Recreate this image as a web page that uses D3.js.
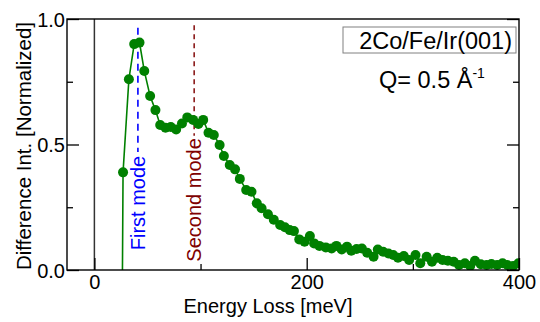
<!DOCTYPE html>
<html><head><meta charset="utf-8">
<script src="https://cdn.jsdelivr.net/npm/d3@7"></script>
<style>
html,body{margin:0;padding:0;background:#fff;}
svg{display:block;font-family:"Liberation Sans",Arial,Helvetica,sans-serif;}
</style></head>
<body>
<script>
// ---- data ----
const energy = [26, 27, 32.5, 37.5, 42.5, 47, 52.5, 57.5, 62, 67,
  72, 77, 82.5, 87.5, 93, 98, 102.5, 107.5, 112.5, 118,
  122, 127.5, 132.5, 137, 143, 148, 153, 157.5, 163.5, 169,
  175, 179.5, 184, 188, 193, 198, 203, 207, 212, 218,
  223.5, 228, 233, 238, 242, 247, 252, 257, 263, 267,
  272, 277, 281.5, 286, 291.5, 296.5, 302.5, 307, 313, 318,
  323, 328, 333, 338.5, 343.5, 349, 354, 358.5, 364, 369.5,
  374, 379.5, 384.5, 389, 394.5, 399.5];
const intensity = [-0.3, 0.389, 0.76, 0.90, 0.906, 0.793, 0.693, 0.637, 0.578, 0.567,
  0.57, 0.56, 0.584, 0.608, 0.598, 0.582, 0.598, 0.547, 0.538, 0.498,
  0.454, 0.418, 0.401, 0.363, 0.319, 0.312, 0.266, 0.246, 0.222, 0.2,
  0.179, 0.17, 0.159, 0.155, 0.122, 0.113, 0.135, 0.106, 0.096, 0.09,
  0.086, 0.096, 0.082, 0.093, 0.077, 0.084, 0.086, 0.069, 0.053, 0.082,
  0.073, 0.066, 0.06, 0.049, 0.056, 0.04, 0.06, 0.027, 0.053, 0.033,
  0.049, 0.04, 0.037, 0.033, 0.02, 0.027, 0.016, 0.037, 0.023, 0.02,
  0.024, 0.02, 0.027, 0.02, 0.016, 0.027];
const modeEnergies = [41, 94];
const modeLabels = ["First mode", "Second mode"];
const xMajorTicks = [0, 200, 400];
const xMinorTicks = [100, 300];
const yMajorTicks = [0, 0.5, 1.0];
const yMinorTicks = [0.25, 0.75];
const legendText = "2Co/Fe/Ir(001)";
const qText = "Q= 0.5 Å";
const qSup = "-1";
const xTitle = "Energy Loss [meV]";
const yTitle = "Difference Int. [Normalized]";

// ---- layout ----
const W = 540, H = 322;
const L = 67, R = 519, T = 19, B = 270;
const x = d3.scaleLinear().domain([-25.8, 400]).range([L, R]);
const y = d3.scaleLinear().domain([0, 1]).range([B, T]);

const svg = d3.select("body").append("svg").attr("width", W).attr("height", H);
svg.append("defs").append("clipPath").attr("id", "clip")
  .append("rect").attr("x", L).attr("y", T).attr("width", R - L).attr("height", B - T);

// zero line
svg.append("line").attr("x1", x(0)).attr("x2", x(0)).attr("y1", T).attr("y2", B)
  .attr("stroke", "#333").attr("stroke-width", 1.5);

// mode lines + labels
const modeColors = ["#0000ff", "#8b1a1a"];
const modeTextColors = ["#0000ff", "#800000"];
const modeTop = [0.965, 0.975];
const modeEnd = [0.47, 0.535];
const modeTextEnd = [0.455, 0.525];
const dashes = ["7,5", "5,4"];
modeEnergies.forEach((e, i) => {
  svg.append("line").attr("x1", x(e)).attr("x2", x(e))
    .attr("y1", y(modeTop[i])).attr("y2", y(modeEnd[i]))
    .attr("stroke", modeColors[i]).attr("stroke-width", 1.6)
    .attr("stroke-dasharray", dashes[i]);
  svg.append("text")
    .attr("transform", `translate(${x(e)},${y(modeTextEnd[i])}) rotate(-90)`)
    .attr("text-anchor", "end").attr("dy", "0.33em")
    .attr("font-size", 20).attr("fill", modeTextColors[i]).text(modeLabels[i]);
});

// data line + markers
const pts = energy.map((e, i) => [e, intensity[i]]);
const g = svg.append("g").attr("clip-path", "url(#clip)");
g.append("path").datum(pts)
  .attr("d", d3.line().x(d => x(d[0])).y(d => y(d[1])))
  .attr("fill", "none").attr("stroke", "#008000").attr("stroke-width", 1.6);
g.selectAll("circle").data(pts).join("circle")
  .attr("cx", d => x(d[0])).attr("cy", d => y(d[1])).attr("r", 5)
  .attr("fill", "#008000");

// axes (inward ticks)
const xb = d3.axisBottom(x).tickValues(xMajorTicks).tickSize(-12).tickFormat(d3.format("d"));
const xbm = d3.axisBottom(x).tickValues(xMinorTicks).tickSize(-6).tickFormat("");
const yl = d3.axisLeft(y).tickValues(yMajorTicks).tickSize(-12).tickFormat(d3.format(".1f"));
const ylm = d3.axisLeft(y).tickValues(yMinorTicks).tickSize(-6).tickFormat("");
const yr = d3.axisRight(y).tickValues(yMajorTicks).tickSize(-12).tickFormat("");
const yrm = d3.axisRight(y).tickValues(yMinorTicks).tickSize(-6).tickFormat("");

function styleAxis(sel, fs) {
  sel.select(".domain").remove();
  sel.selectAll(".tick line").attr("stroke", "#000").attr("stroke-width", 1.3);
  sel.selectAll(".tick text").attr("fill", "#000").attr("font-size", fs)
    .attr("font-family", "Liberation Sans, Arial, sans-serif");
}
const gxb = svg.append("g").attr("transform", `translate(0,${B})`).call(xb);
styleAxis(gxb, 20); gxb.selectAll(".tick text").attr("y", 5).attr("dy", "0.71em");
styleAxis(svg.append("g").attr("transform", `translate(0,${B})`).call(xbm), 20);
const gyl = svg.append("g").attr("transform", `translate(${L},0)`).call(yl);
styleAxis(gyl, 20); gyl.selectAll(".tick text").attr("x", -2).attr("dy", "0.35em");
styleAxis(svg.append("g").attr("transform", `translate(${L},0)`).call(ylm), 20);
styleAxis(svg.append("g").attr("transform", `translate(${R},0)`).call(yr), 20);
styleAxis(svg.append("g").attr("transform", `translate(${R},0)`).call(yrm), 20);

// frame
svg.append("rect").attr("x", L).attr("y", T).attr("width", R - L).attr("height", B - T)
  .attr("fill", "none").attr("stroke", "#000").attr("stroke-width", 1.4);

// axis titles
svg.append("text").attr("x", 268).attr("y", 313).attr("text-anchor", "middle")
  .attr("font-size", 20).attr("fill", "#000").text(xTitle);
svg.append("text").attr("transform", `translate(31,146) rotate(-90)`)
  .attr("text-anchor", "middle").attr("font-size", 20.5).attr("fill", "#000").text(yTitle);

// legend box
svg.append("rect").attr("x", 343).attr("y", 27).attr("width", 173).attr("height", 26)
  .attr("fill", "#fff").attr("stroke", "#808080").attr("stroke-width", 1);
svg.append("text").attr("x", 512).attr("y", 48.5).attr("text-anchor", "end")
  .attr("font-size", 23.5).attr("fill", "#000").text(legendText);

// Q text
const qt = svg.append("text").attr("x", 379).attr("y", 88).attr("font-size", 23.5).attr("fill", "#000");
qt.append("tspan").text(qText);
qt.append("tspan").attr("dy", -10).attr("font-size", 14).text(qSup);
</script>
</body></html>
